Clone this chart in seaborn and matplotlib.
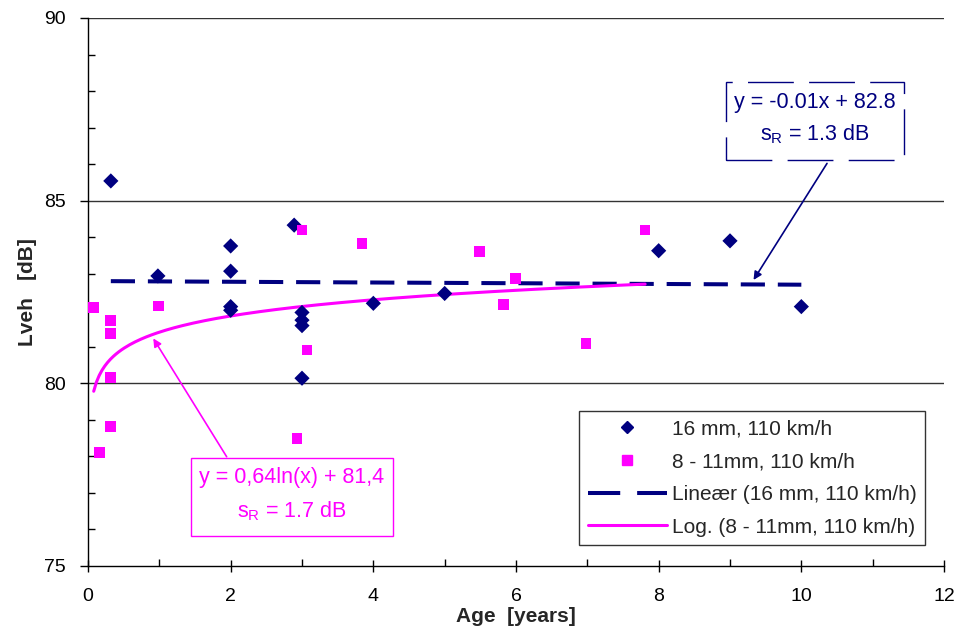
import numpy as np
import pandas as pd
import matplotlib
matplotlib.use("Agg")
import matplotlib.pyplot as plt
from matplotlib.patches import Rectangle
from matplotlib.lines import Line2D
from matplotlib.ticker import MultipleLocator
import seaborn as sns

# Measurements: age [years] and vehicle noise level Lveh [dB]
age_16mm = [0.32, 0.98, 2.0, 2.0, 2.0, 2.0, 2.89, 3.0, 3.0, 3.0, 3.0, 4.0, 5.0, 8.0, 9.0, 10.0]
lveh_16mm = [85.54, 82.94, 83.76, 83.07, 82.10, 82.00, 84.33, 81.94, 81.73, 81.58, 80.14,
             82.19, 82.46, 83.63, 83.90, 82.10]

age_8_11mm = [0.08, 0.16, 0.32, 0.32, 0.32, 0.32, 0.99, 2.93, 3.0, 3.07, 3.84, 5.49, 5.82,
              5.99, 6.98, 7.81]
lveh_8_11mm = [82.07, 78.11, 81.73, 81.37, 80.16, 78.81, 82.12, 78.48, 84.20, 80.91, 83.82,
               83.60, 82.16, 82.86, 81.09, 84.20]

label_16 = "16 mm, 110 km/h"
label_8 = "8 - 11mm, 110 km/h"
label_lin = "Lineær (16 mm, 110 km/h)"
label_log = "Log. (8 - 11mm, 110 km/h)"

# Trendline coefficients as printed in the equation boxes
lin_slope, lin_icpt = -0.01, 82.8
log_coef, log_icpt = 0.64, 81.4
lin_text = "y = -0.01x + 82.8"
lin_sr = "s$_\\mathregular{R}$ = 1.3 dB"
log_text = "y = 0,64ln(x) + 81,4"
log_sr = "s$_\\mathregular{R}$ = 1.7 dB"

NAVY = "#000080"
MAGENTA = "#FF00FF"

sns.set_theme(style="white")
plt.rcParams["font.family"] = ["Liberation Sans", "DejaVu Sans"]
plt.rcParams["mathtext.default"] = "regular"

fig = plt.figure(figsize=(9.63, 6.37), dpi=100)
ax = fig.add_axes([88 / 963, 1 - 566 / 637, (944 - 88) / 963, (566 - 18) / 637])

df = pd.DataFrame({
    "age": age_16mm + age_8_11mm,
    "lveh": lveh_16mm + lveh_8_11mm,
    "series": [label_16] * len(age_16mm) + [label_8] * len(age_8_11mm),
})

# horizontal gridlines
for gy in (80, 85, 90):
    ax.axhline(gy, color="#333333", lw=1.0, zorder=0)

# trendlines
x_lin = np.linspace(min(age_16mm), max(age_16mm), 50)
trend_lin = pd.DataFrame({"age": x_lin, "lveh": lin_slope * x_lin + lin_icpt})
x_log = np.linspace(min(age_8_11mm), max(age_8_11mm), 200)
trend_log = pd.DataFrame({"age": x_log, "lveh": log_coef * np.log(x_log) + log_icpt})

sns.lineplot(data=trend_lin, x="age", y="lveh", ax=ax, color=NAVY, lw=2.9, zorder=3)
ax.lines[-1].set_dashes([6, 3.2])
ax.lines[-1].set_solid_capstyle("butt")
sns.lineplot(data=trend_log, x="age", y="lveh", ax=ax, color=MAGENTA, lw=2.2, zorder=3)

sns.scatterplot(data=df, x="age", y="lveh", hue="series", style="series",
                palette={label_16: NAVY, label_8: MAGENTA},
                markers={label_16: "D", label_8: "s"},
                s=60, linewidth=0, ax=ax, legend=False, zorder=4)

ax.set_xlim(0, 12)
ax.set_ylim(75, 90)
ax.xaxis.set_major_locator(MultipleLocator(2))
ax.xaxis.set_minor_locator(MultipleLocator(1))
ax.yaxis.set_major_locator(MultipleLocator(5))
ax.yaxis.set_minor_locator(MultipleLocator(1))
ax.tick_params(axis="both", which="major", width=1, color="black", labelsize=14,
               labelcolor="black", left=True, bottom=True)
ax.tick_params(axis="y", which="major", direction="out", length=6, pad=10)
ax.tick_params(axis="x", which="major", direction="inout", length=8, pad=12)
ax.tick_params(axis="both", which="minor", direction="in", length=5, width=1,
               color="black", left=True, bottom=True)

for side in ("top", "right"):
    ax.spines[side].set_visible(False)
for side in ("left", "bottom"):
    ax.spines[side].set_color("black")
    ax.spines[side].set_linewidth(1.0)

ax.set_xlabel("Age  [years]", fontsize=15, fontweight="bold", labelpad=1)
ax.set_ylabel("Lveh   [dB]", fontsize=15, fontweight="bold", labelpad=5)

# legend
handles = [
    Line2D([], [], ls="none", marker="D", color=NAVY, markersize=6.5),
    Line2D([], [], ls="none", marker="s", color=MAGENTA, markersize=6.5),
    Line2D([], [], color=NAVY, lw=2.9, dashes=[8, 4.2], solid_capstyle="butt"),
    Line2D([], [], color=MAGENTA, lw=2.2),
]
leg = ax.legend(handles, [label_16, label_8, label_lin, label_log],
                loc="lower right", bbox_to_anchor=((925 - 88) / 856, (566 - 545) / 548),
                frameon=True, fancybox=False, fontsize=15, handlelength=3.8,
                handletextpad=0.25, labelspacing=0.66, borderpad=0.4,
                borderaxespad=0)
leg.get_frame().set_edgecolor("black")
leg.get_frame().set_linewidth(1.0)

# equation box for the linear fit
ax.add_patch(Rectangle((8.94, 86.11), 2.50, 2.15, fill=False, edgecolor=NAVY,
                       lw=1.0, ls=(0, (33, 11)), zorder=5, clip_on=False))
ax.text(10.19, 87.70, lin_text, color=NAVY, fontsize=15.5, ha="center", va="center", zorder=6)
ax.text(10.19, 86.82, lin_sr, color=NAVY, fontsize=15.5, ha="center", va="center", zorder=6)
ax.annotate("", xy=(9.33, 82.83), xytext=(10.36, 86.02),
            arrowprops=dict(arrowstyle="-|>", color=NAVY, lw=1.2,
                            mutation_scale=12, shrinkA=0, shrinkB=0), zorder=6)

# equation box for the logarithmic fit
ax.add_patch(Rectangle((1.444, 75.82), 2.828, 2.13, facecolor="white", edgecolor=MAGENTA,
                       lw=1.0, zorder=5))
ax.text(2.86, 77.43, log_text, color=MAGENTA, fontsize=15.5, ha="center", va="center", zorder=6)
ax.text(2.86, 76.50, log_sr, color=MAGENTA, fontsize=15.5, ha="center", va="center", zorder=6)
ax.annotate("", xy=(0.915, 81.23), xytext=(1.944, 77.99),
            arrowprops=dict(arrowstyle="-|>", color=MAGENTA, lw=1.2,
                            mutation_scale=12, shrinkA=0, shrinkB=0), zorder=6)

fig.savefig("out.png", dpi=100)
